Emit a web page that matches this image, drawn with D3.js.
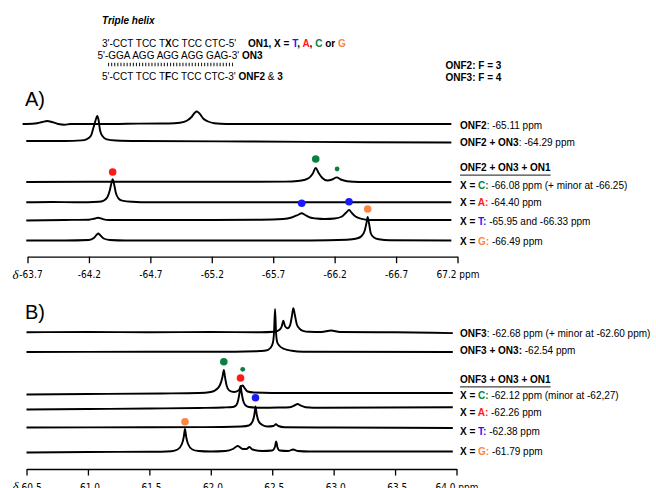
<!DOCTYPE html>
<html>
<head>
<meta charset="utf-8">
<script src="https://cdn.jsdelivr.net/npm/d3@7"></script>
<style>
  body { margin: 0; background: #fff; }
  svg { display: block; font-family: "Liberation Sans", Arial, sans-serif; }
</style>
</head>
<body>
<div class="chart"></div>
<script>
// ---- data ----
var ticksA = [-63.7, -64.2, -64.7, -65.2, -65.7, -66.2, -66.7, -67.2];
var tickLabelsA = ["-63.7", "-64.2", "-64.7", "-65.2", "-65.7", "-66.2", "-66.7", "67.2 ppm"];
var ticksB = [-60.5, -61.0, -61.5, -62.0, -62.5, -63.0, -63.5, -64.0];
var tickLabelsB = ["-60.5", "-61.0", "-61.5", "-62.0", "-62.5", "-63.0", "-63.5", "64.0 ppm"];

// [ppm, intensity] per trace, top to bottom
var spectraA = [
  // ONF2
  [[-63.66,0],[-63.76,0.5],[-63.82,2],[-63.86,3],[-63.9,2],[-63.95,0],[-64.0,-0.8],[-64.05,0],[-64.4,0],[-64.6,0.4],[-64.85,0.5],
   [-64.94,1.3],[-65.0,3.5],[-65.035,7],[-65.06,11],[-65.077,12.5],[-65.1,10.5],[-65.13,5.5],[-65.17,2.5],[-65.22,0.8],[-65.32,0],[-66.0,0],[-66.6,0],[-67.15,0]],
  // ONF2 + ON3
  [[-63.69,0],[-64.0,0],[-64.14,0.6],[-64.18,1.7],[-64.215,5],[-64.236,13],[-64.255,21],[-64.268,25],[-64.28,20],[-64.29,11],[-64.31,5],
   [-64.345,1.7],[-64.42,0.5],[-64.6,0],[-65.5,-0.5],[-66.5,-1.2],[-67.15,-1.5]],
  // X = C
  [[-63.69,0],[-64.5,0.3],[-65.2,0.2],[-65.8,0.4],[-65.9,1],[-65.95,2],[-65.99,4],[-66.02,8],[-66.046,14],[-66.07,9],[-66.1,4],
   [-66.14,1.5],[-66.18,2.5],[-66.217,4.6],[-66.25,2.5],[-66.3,0.8],[-66.4,0],[-67.15,0]],
  // X = A
  [[-63.69,0],[-63.9,0.3],[-64.1,0],[-64.28,0.5],[-64.32,1.7],[-64.35,5],[-64.37,12],[-64.383,19],[-64.393,23],[-64.405,18],[-64.42,9],
   [-64.44,4],[-64.47,1.7],[-64.55,0.5],[-64.7,0],[-67.15,0]],
  // X = T
  [[-63.69,-0.5],[-64.0,0],[-64.2,0.3],[-64.25,1.5],[-64.276,2.2],[-64.31,1],[-64.36,0],[-65.0,0],[-65.6,0.3],[-65.78,1],[-65.85,2.5],
   [-65.9,5],[-65.932,6.8],[-65.96,5],[-66.0,2.5],[-66.05,1.5],[-66.12,1],[-66.2,1.5],[-66.26,3.5],[-66.295,7.5],[-66.317,10],
   [-66.34,7],[-66.37,3.5],[-66.42,1.2],[-66.5,0],[-67.15,0]],
  // X = G
  [[-63.69,0],[-64.0,0],[-64.2,0.5],[-64.24,2.5],[-64.265,6],[-64.276,7],[-64.29,5.5],[-64.32,2],[-64.37,0.5],[-64.5,0],[-66.0,0],
   [-66.3,0.8],[-66.38,2],[-66.42,4.5],[-66.445,10],[-66.46,18],[-66.469,23.5],[-66.48,17],[-66.495,7],[-66.52,3],[-66.56,1.2],
   [-66.65,0.3],[-67.15,0]]
];

var spectraB = [
  // ONF3
  [[-60.5,0],[-61.0,0.3],[-61.5,0],[-62.0,0.3],[-62.4,0],[-62.52,0.5],[-62.56,2.5],[-62.578,6],[-62.59,11.6],[-62.605,6],[-62.625,4],
   [-62.645,7],[-62.66,16],[-62.672,24],[-62.685,17],[-62.7,8],[-62.72,4],[-62.75,1.5],[-62.8,0.5],[-62.9,0.3],[-62.98,1.8],
   [-63.05,0.3],[-63.5,0],[-63.97,-0.8]],
  // ONF3 + ON3
  [[-60.5,0],[-61.5,0.2],[-62.2,0.3],[-62.4,1],[-62.45,1.5],[-62.485,4],[-62.505,9],[-62.515,20],[-62.523,43],[-62.531,20],
   [-62.54,10],[-62.56,6],[-62.6,3],[-62.66,1.2],[-62.75,0.3],[-63.97,0]],
  // X = C
  [[-60.5,-1.5],[-61.0,-1],[-61.6,-0.5],[-61.9,0],[-62.0,1],[-62.04,3],[-62.075,8],[-62.095,16],[-62.106,23],[-62.117,15],[-62.13,7],
   [-62.15,2.5],[-62.19,1],[-62.225,2.5],[-62.245,6],[-62.26,7.5],[-62.275,5],[-62.3,1.5],[-62.35,0.5],[-62.5,0],[-63.0,0],[-63.97,0]],
  // X = A
  [[-60.5,-1.5],[-61.0,-1],[-61.5,-0.5],[-61.9,0],[-62.1,0.5],[-62.18,1],[-62.205,2.5],[-62.225,9],[-62.235,16],[-62.242,22],
   [-62.25,16],[-62.262,8],[-62.28,3],[-62.31,1],[-62.4,0.3],[-62.55,0.5],[-62.64,0.8],[-62.68,2.5],[-62.707,4],[-62.73,2.5],
   [-62.77,0.8],[-62.9,0.3],[-63.97,0.8]],
  // X = T
  [[-60.5,0],[-61.5,0.3],[-62.1,0.5],[-62.25,1],[-62.31,2],[-62.34,6],[-62.355,13],[-62.364,21],[-62.374,13],[-62.39,6],[-62.42,2.5],
   [-62.46,1],[-62.51,1.5],[-62.53,3.3],[-62.55,1.5],[-62.6,0.3],[-63.0,0],[-63.97,-0.5]],
  // X = G
  [[-60.5,-0.5],[-61.0,0],[-61.5,0.2],[-61.68,0.8],[-61.73,2.5],[-61.765,8],[-61.78,15],[-61.79,23],[-61.8,15],[-61.815,8],
   [-61.85,2.5],[-61.9,1],[-62.0,0.5],[-62.12,1],[-62.18,3],[-62.22,6],[-62.26,3],[-62.29,3],[-62.315,5],[-62.34,2.5],[-62.42,1],
   [-62.5,1.5],[-62.522,5],[-62.532,10.5],[-62.542,5],[-62.56,1.5],[-62.63,1],[-62.67,2.5],[-62.71,1],[-62.8,0.5],[-63.97,0.5]]
];

// dots: [trace index, ppm, intensity, base, size]
var dotsA = [[2,-66.046,23,"C","big"],[2,-66.22,13,"C","small"],[3,-64.393,30.3,"A","big"],
             [4,-65.932,16.7,"T","big"],[4,-66.317,18.3,"T","big"],[5,-66.469,31.5,"G","big"]];
var dotsB = [[2,-62.106,31.3,"C","big"],[2,-62.26,23.7,"C","small"],[3,-62.242,30,"A","big"],
             [4,-62.364,29.8,"T","big"],[5,-61.79,30.3,"G","big"]];

// legend text segments: [text, bold, base colour]
var labelsA = [
  [["ONF2",1],[": -65.11 ppm",0]],
  [["ONF2 + ON3",1],[": -64.29 ppm",0]],
  [["ONF2 + ON3 + ON1",1]],
  [["X = ",1],["C:",1,"C"],[" -66.08 ppm (+ minor at -66.25)",0]],
  [["X = ",1],["A:",1,"A"],[" -64.40 ppm",0]],
  [["X = ",1],["T:",1,"T"],[" -65.95 and -66.33 ppm",0]],
  [["X = ",1],["G:",1,"G"],[" -66.49 ppm",0]]
];
var labelsB = [
  [["ONF3",1],[": -62.68 ppm (+ minor at -62.60 ppm)",0]],
  [["ONF3 + ON3:",1],[" -62.54 ppm",0]],
  [["ONF3 + ON3 + ON1",1]],
  [["X = ",1],["C:",1,"C"],[" -62.12 ppm (minor at -62,27)",0]],
  [["X = ",1],["A:",1,"A"],[" -62.26 ppm",0]],
  [["X = ",1],["T:",1,"T"],[" -62.38 ppm",0]],
  [["X = ",1],["G:",1,"G"],[" -61.79 ppm",0]]
];

var headerLines = [
  [["3'-CCT TCC T",0],["X",1],["C TCC CTC-5'",0]],
  [["ON1, X = ",1],["T",1,"T"],[", ",1],["A",1,"A"],[", ",1],["C",1,"C"],[" or ",1],["G",1,"G"]],
  [["5'-GGA AGG AGG AGG GAG-3' ",0],["ON3",1]],
  [["5'-CCT TCC T",0],["F",1],["C TCC CTC-3' ",0],["ONF2",1],[" & ",0],["3",1]],
  [["ONF2: F = 3",1]],
  [["ONF3: F = 4",1]]
];

var colors = { T: "#1a1aff", A: "#ff1a1a", C: "#0a8040", G: "#fb8544" };

// ---- drawing ----
var svg = d3.select(".chart").append("svg").attr("width", 656).attr("height", 488);

function richText(g, segs, x, y) {
  var t = g.append("text").attr("x", x).attr("y", y).attr("font-size", 10).attr("fill", "#000")
    .style("white-space", "pre");
  segs.forEach(function(s) {
    t.append("tspan").text(s[0])
      .attr("font-weight", s[1] ? "bold" : "normal")
      .attr("fill", s[2] ? colors[s[2]] : "#000");
  });
  return t;
}

// header
var hd = svg.append("g");
hd.append("text").attr("x", 102).attr("y", 23.5).attr("font-size", 10).attr("font-weight", "bold")
  .attr("font-style", "italic").text("Triple helix");
var headerPos = [[102, 47], [248, 47], [97.5, 58.5], [102, 80.3], [445.5, 68.5], [445.5, 81.3]];
headerLines.forEach(function(l, i) { richText(hd, l, headerPos[i][0], headerPos[i][1]); });
hd.append("line").attr("x1", 108).attr("x2", 233).attr("y1", 64.5).attr("y2", 64.5)
  .attr("stroke", "#222").attr("stroke-width", 3.5).attr("stroke-dasharray", "1.1,2");

function drawPanel(p) {
  var x = d3.scaleLinear().domain(p.domain).range(p.range);
  var y = d3.scaleLinear().domain([0, 1]).range([0, -1]);
  var g = svg.append("g");

  g.append("text").attr("x", 25).attr("y", p.titleY).attr("font-size", 20).text(p.title);

  var line = d3.line().x(function(d) { return x(d[0]); }).y(function(d) { return y(d[1]); })
    .curve(d3.curveMonotoneX);

  g.selectAll("path.trace").data(p.spectra).enter().append("path")
    .attr("class", "trace")
    .attr("transform", function(d, i) { return "translate(0," + p.rows[i] + ")"; })
    .attr("d", line)
    .attr("fill", "none").attr("stroke", "#000").attr("stroke-width", 1.9)
    .attr("stroke-linejoin", "round");

  g.selectAll("circle").data(p.dots).enter().append("circle")
    .attr("cx", function(d) { return x(d[1]); })
    .attr("cy", function(d) { return p.rows[d[0]] + y(d[2]); })
    .attr("r", function(d) { return d[4] === "big" ? 3.8 : 2.4; })
    .attr("fill", function(d) { return colors[d[3]]; });

  p.labels.forEach(function(l, i) {
    var t = richText(g, l, 460, p.labelY[i] + 3.6);
    if (l.length === 1) {
      var w = t.node().getComputedTextLength();
      g.append("line").attr("x1", 460).attr("x2", 460 + w).attr("y1", p.labelY[i] + 7.8)
        .attr("y2", p.labelY[i] + 7.8).attr("stroke", "#444").attr("stroke-width", 1.2);
    }
  });

  var axis = d3.axisBottom(x).tickValues(p.ticks)
    .tickFormat(function(d, i) { return p.tickLabels[i]; })
    .tickSize(6.5).tickSizeOuter(0).tickPadding(8);
  var ga = g.append("g").attr("transform", "translate(0," + p.axisY + ")").call(axis);
  ga.select(".domain").attr("stroke", "#000").attr("stroke-width", 1.3);
  ga.selectAll(".tick line").attr("stroke", "#000").attr("stroke-width", 1.3);
  ga.selectAll(".tick text").attr("fill", "#000").attr("font-size", 10)
    .attr("font-family", "'Liberation Sans Narrow', 'DejaVu Sans Condensed', Arial, sans-serif");
  ga.select(".tick text").attr("dx", 3);
  g.append("text").attr("x", 12.5).attr("y", p.axisY + 22).attr("font-size", 13)
    .attr("font-family", "'Liberation Serif', serif").attr("font-style", "italic").text("\u03b4");
}

drawPanel({
  title: "A)", titleY: 106,
  domain: [-63.7, -67.2], range: [27.5, 457.5],
  spectra: spectraA, rows: [124, 141, 182, 202.3, 220, 240.5],
  dots: dotsA, labels: labelsA,
  labelY: [125.3, 142.3, 167.3, 185.3, 202.7, 221, 241],
  ticks: ticksA, tickLabels: tickLabelsA, axisY: 256.7
});

drawPanel({
  title: "B)", titleY: 318.5,
  domain: [-60.5, -64.0], range: [26.5, 456.5],
  spectra: spectraB, rows: [332.3, 352, 393, 408, 427.5, 452],
  dots: dotsB, labels: labelsB,
  labelY: [333.3, 350.7, 379, 395, 412.3, 431.7, 451.7],
  ticks: ticksB, tickLabels: tickLabelsB, axisY: 469
});
</script>
</body>
</html>
